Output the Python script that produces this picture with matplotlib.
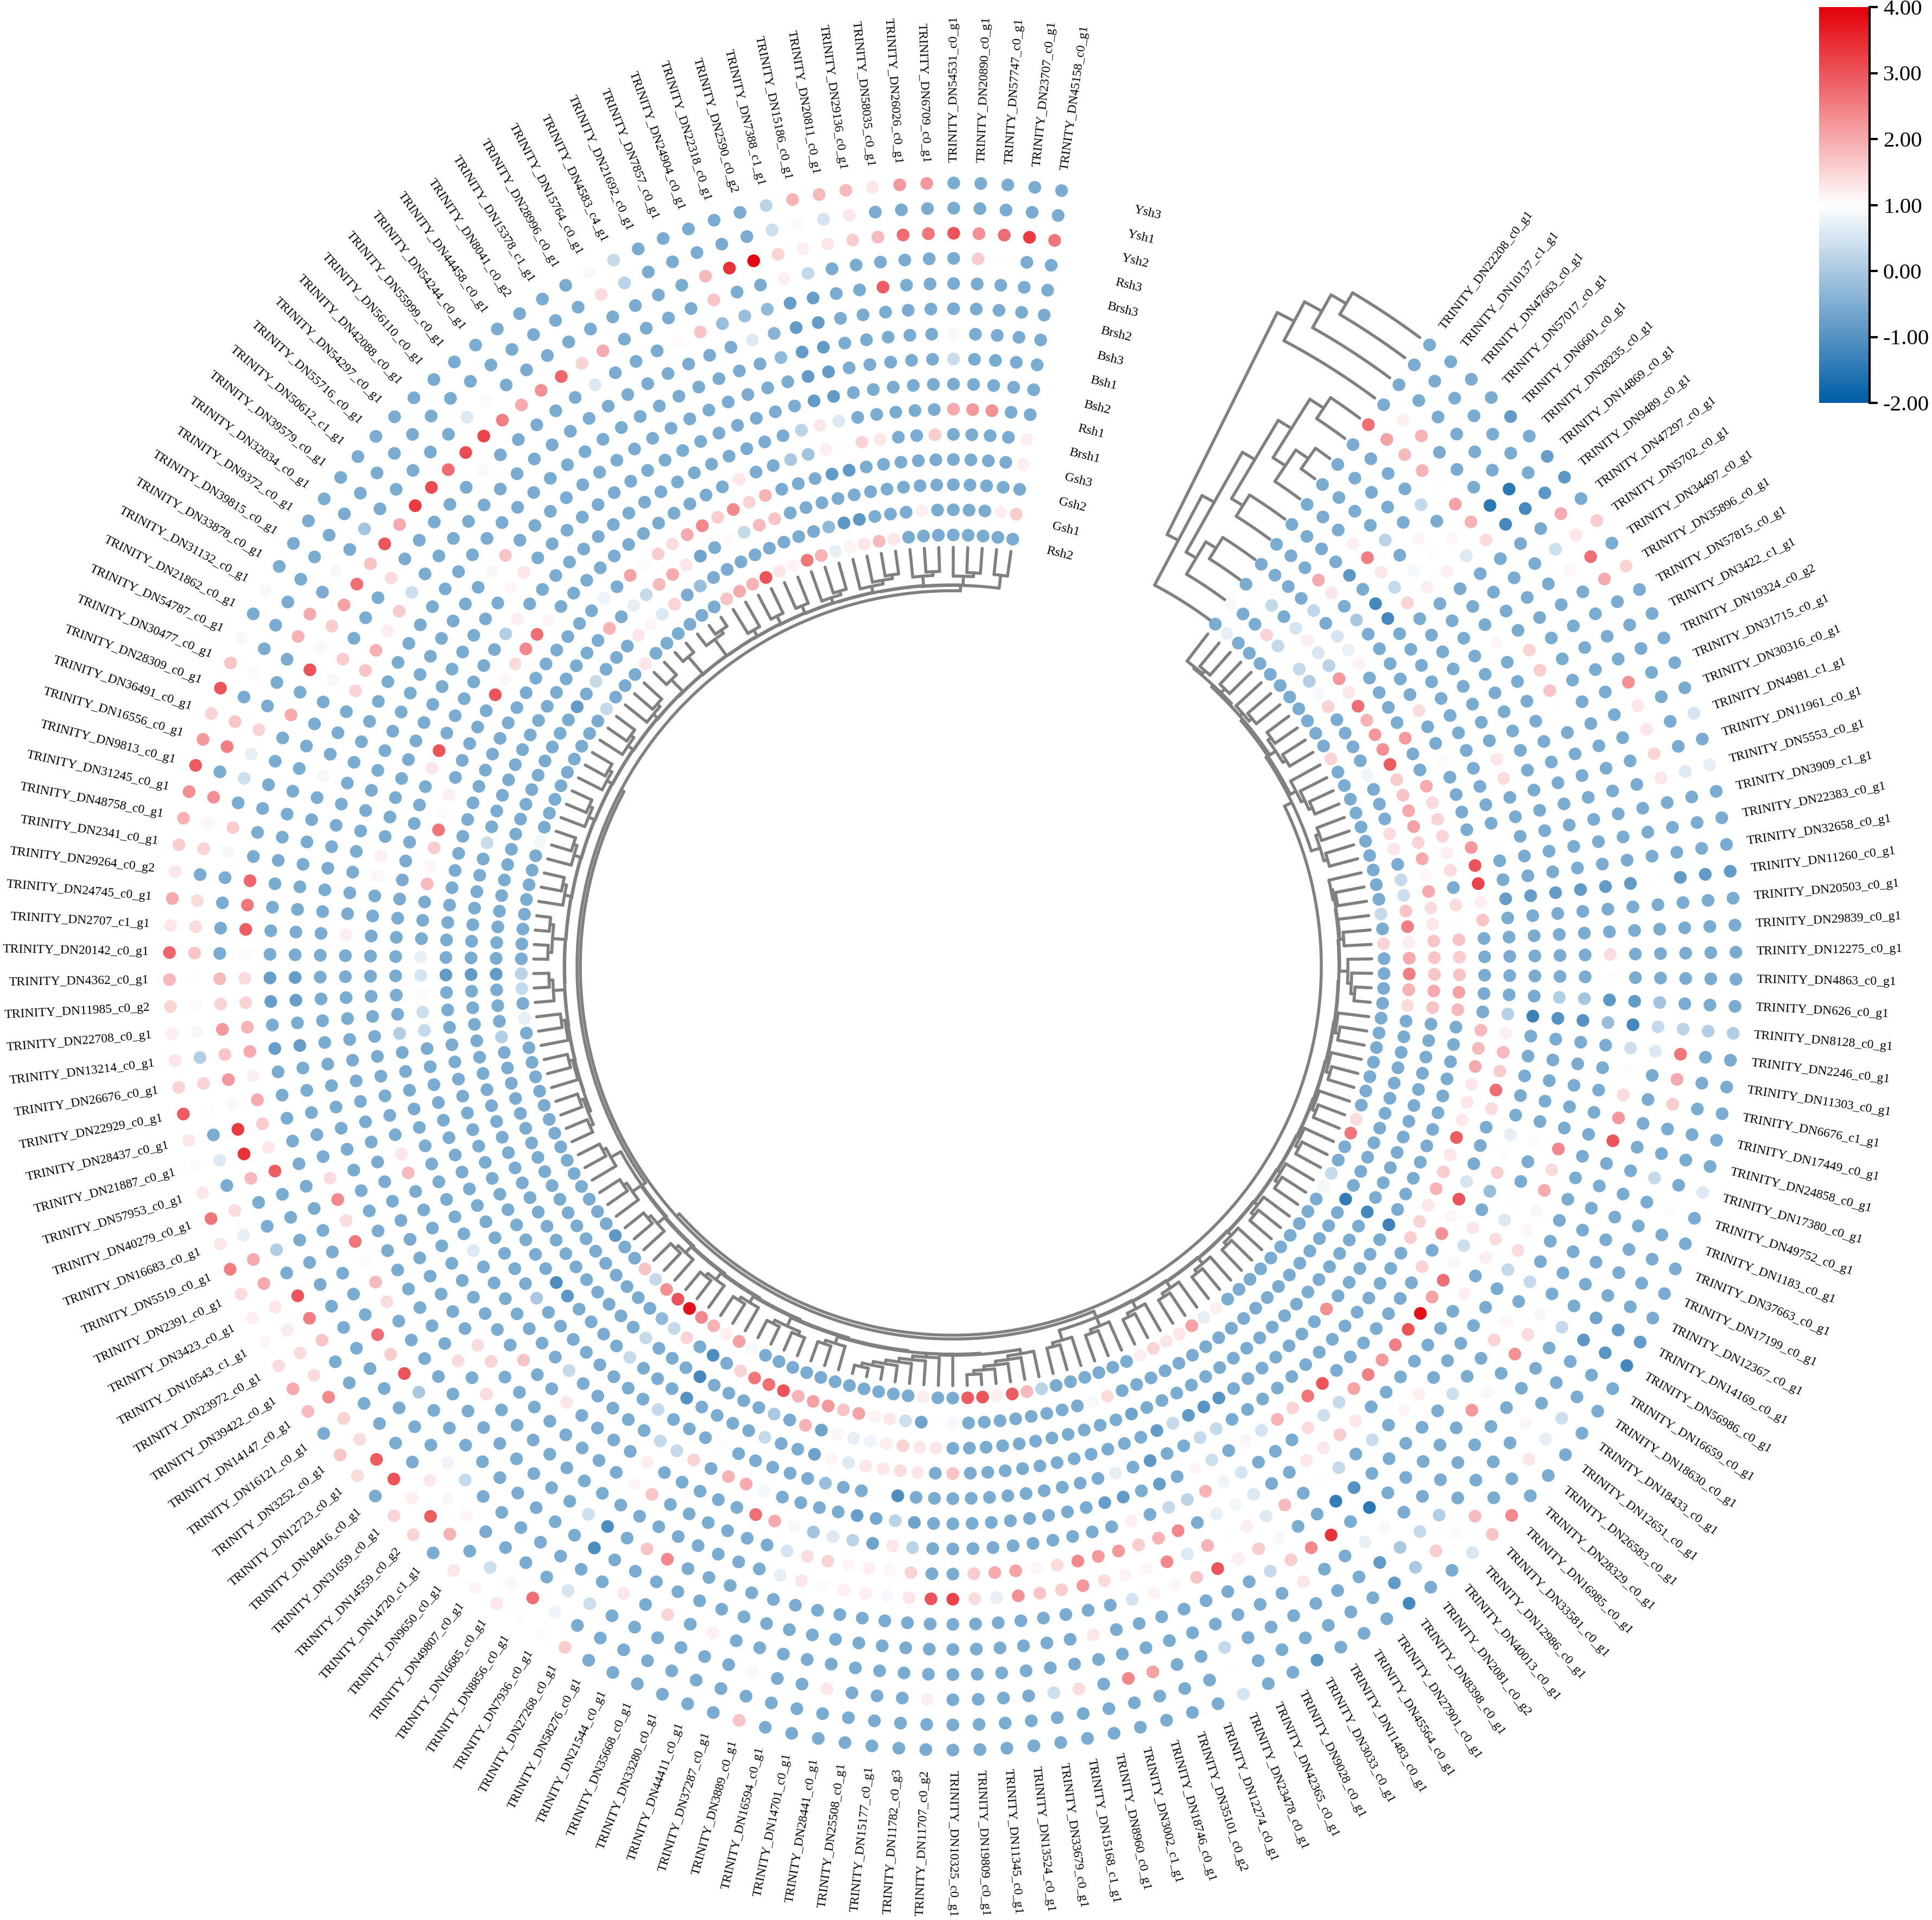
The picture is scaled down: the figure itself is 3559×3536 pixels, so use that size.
#!/usr/bin/env python3
"""Circular heatmap of gene expression with row and sample dendrograms."""
import numpy as np
import matplotlib
matplotlib.use("Agg")
import matplotlib.pyplot as plt
from matplotlib.cm import ScalarMappable
from matplotlib.colors import LinearSegmentedColormap, Normalize

plt.rcParams["font.family"] = ["Liberation Serif", "DejaVu Serif"]
plt.rcParams["axes.unicode_minus"] = False

genes = """DN22208_c0_g1 DN10137_c1_g1 DN47663_c0_g1 DN57017_c0_g1 DN6601_c0_g1 DN28235_c0_g1 DN14869_c0_g1
DN9489_c0_g1 DN47297_c0_g1 DN5702_c0_g1 DN34497_c0_g1 DN35896_c0_g1 DN57815_c0_g1 DN3422_c1_g1 DN19324_c0_g2
DN31715_c0_g1 DN30316_c0_g1 DN4981_c1_g1 DN11961_c0_g1 DN5553_c0_g1 DN3909_c1_g1 DN22383_c0_g1 DN32658_c0_g1
DN11260_c0_g1 DN20503_c0_g1 DN29839_c0_g1 DN12275_c0_g1 DN4863_c0_g1 DN626_c0_g1 DN8128_c0_g1 DN2246_c0_g1
DN11303_c0_g1 DN6676_c1_g1 DN17449_c0_g1 DN24858_c0_g1 DN17380_c0_g1 DN49752_c0_g1 DN1183_c0_g1 DN37663_c0_g1
DN17199_c0_g1 DN12367_c0_g1 DN14169_c0_g1 DN56986_c0_g1 DN16659_c0_g1 DN18630_c0_g1 DN18433_c0_g1 DN12651_c0_g1
DN26583_c0_g1 DN28329_c0_g1 DN16985_c0_g1 DN33581_c0_g1 DN12986_c0_g1 DN40013_c0_g1 DN2081_c0_g2 DN8398_c0_g1
DN27901_c0_g1 DN45564_c0_g1 DN11483_c0_g1 DN3033_c0_g1 DN9028_c0_g1 DN42365_c0_g1 DN23478_c0_g1 DN12274_c0_g1
DN35101_c0_g2 DN18746_c0_g1 DN3002_c1_g1 DN8960_c0_g1 DN15168_c1_g1 DN33679_c0_g1 DN13524_c0_g1 DN11345_c0_g1
DN19809_c0_g1 DN10325_c0_g1 DN11707_c0_g2 DN11782_c0_g3 DN15177_c0_g1 DN25508_c0_g1 DN28441_c0_g1 DN14701_c0_g1
DN16594_c0_g1 DN3889_c0_g1 DN37287_c0_g1 DN44411_c0_g1 DN33280_c0_g1 DN35668_c0_g1 DN21544_c0_g1 DN58276_c0_g1
DN27268_c0_g1 DN7936_c0_g1 DN8856_c0_g1 DN16685_c0_g1 DN49807_c0_g1 DN9650_c0_g1 DN14720_c1_g1 DN14559_c0_g2
DN31659_c0_g1 DN18416_c0_g1 DN12723_c0_g1 DN3252_c0_g1 DN16121_c0_g1 DN14147_c0_g1 DN39422_c0_g1 DN23972_c0_g1
DN10543_c1_g1 DN3423_c0_g1 DN2391_c0_g1 DN5519_c0_g1 DN16683_c0_g1 DN40279_c0_g1 DN57953_c0_g1 DN21887_c0_g1
DN28437_c0_g1 DN22929_c0_g1 DN26676_c0_g1 DN13214_c0_g1 DN22708_c0_g1 DN11985_c0_g2 DN4362_c0_g1 DN20142_c0_g1
DN2707_c1_g1 DN24745_c0_g1 DN29264_c0_g2 DN2341_c0_g1 DN48758_c0_g1 DN31245_c0_g1 DN9813_c0_g1 DN16556_c0_g1
DN36491_c0_g1 DN28309_c0_g1 DN30477_c0_g1 DN54787_c0_g1 DN21862_c0_g1 DN31132_c0_g1 DN33878_c0_g1 DN39815_c0_g1
DN9372_c0_g1 DN32034_c0_g1 DN39579_c0_g1 DN50612_c1_g1 DN55716_c0_g1 DN54297_c0_g1 DN42088_c0_g1 DN56110_c0_g1
DN55999_c0_g1 DN54244_c0_g1 DN44458_c0_g1 DN8041_c0_g2 DN15378_c1_g1 DN28996_c0_g1 DN15764_c0_g1 DN4583_c4_g1
DN21692_c0_g1 DN7857_c0_g1 DN24904_c0_g1 DN22318_c0_g1 DN2590_c0_g2 DN7388_c1_g1 DN15186_c0_g1 DN20811_c0_g1
DN29136_c0_g1 DN58035_c0_g1 DN26026_c0_g1 DN6709_c0_g1 DN54531_c0_g1 DN20890_c0_g1 DN57747_c0_g1 DN23707_c0_g1
DN45158_c0_g1""".split()

# outermost ring first
samples = ["Ysh3", "Ysh1", "Ysh2", "Rsh3", "Brsh3", "Brsh2", "Bsh3", "Bsh1",
           "Bsh2", "Rsh1", "Brsh1", "Gsh3", "Gsh2", "Gsh1", "Rsh2"]

# most dots sit at this value, the dicts below hold the ones that differ {gene index: value}
common_value = -0.55

ysh3 = {162: 2.2, 161: 2.2, 160: 1.3, 159: 1.8, 158: 1.8, 157: 1.9, 156: .2, 150: .3, 149: .9, 132: .9, 130: .9,
        129: 1.7, 128: 3.0, 127: 1.5, 126: 2.2, 125: 2.9, 124: 2.3, 123: 1.9, 122: 1.6, 121: 1.3, 120: 2.0, 119: 1.3,
        118: 2.8, 117: 1.8, 116: 1.5, 115: 1.2, 114: 1.3, 113: 1.5, 112: 2.9, 111: 1.3, 110: .95, 109: 1.3, 108: 2.6,
        107: 1.3, 106: 2.5, 105: 1.4, 104: 1.2, 103: 1.1, 102: 1.4, 101: 2.0, 100: 1.8, 98: 1.7, 97: 1.4, 95: 1.5,
        94: 1.5, 92: 1.3, 91: 1.1, 90: 1.3, 89: .95, 88: .95, 87: 1.6, 80: 1.7, 61: .5, 58: -.9, 54: -1.2, 51: .55,
        50: 1.7, 49: 2.4, 42: -1.2, 41: -.85, 35: .6, 29: .1, 23: -.85, 19: .7, 17: .5, 11: 1.5, 9: 1.6, 7: -.9, 6: -.8,
        4: -.85}
ysh1 = {159: 1.3, 158: .5, 157: 1.05, 156: .4, 150: .2, 149: 1.4, 129: 1.05, 127: 1.7, 126: 2.5, 124: 2.3, 123: 1.1,
        122: 1.5, 120: 1.4, 119: 1.4, 118: 1.7, 117: 1.0, 116: 1.05, 115: .9, 114: .1, 113: 1.5, 112: .95, 110: .6,
        108: 1.4, 107: .7, 106: 2.0, 105: 2.0, 104: 1.3, 103: 1.25, 102: 1.4, 101: 1.4, 100: 2.4, 99: 1.5, 98: 1.4,
        97: 2.9, 96: 3.0, 95: 1.2, 94: 2.9, 93: 1.9, 91: .4, 90: 1.1, 89: 2.7, 88: .8, 61: 1.02, 54: -.85, 53: .0,
        52: 1.6, 51: 1.05, 50: 1.8, 47: 1.3, 46: .7, 45: .4, 42: -.95, 41: -.8, 36: .95, 29: .1, 23: -.85, 19: .6, 11: 2.0,
        10: 2.7, 9: 1.3, 8: 2.0, 7: -.9}
ysh2 = {167: 2.6, 166: 3.3, 165: 2.7, 164: 2.3, 163: 3.0, 162: 2.6, 161: 2.7, 160: 1.8, 159: 1.6, 158: 1.3, 157: 1.2,
        156: 1.5, 155: 3.9, 154: 3.4, 153: 1.8, 143: 1.05, 142: .6, 136: -.1, 134: .9, 132: 2.0, 131: 1.9, 127: 1.5,
        126: .7, 125: .4, 123: 1.6, 122: .9, 117: 1.8, 116: 1.5, 115: 2.2, 114: 1.7, 113: 2.2, 112: .9, 111: 3.3,
        110: 3.4, 109: 1.8, 106: .1, 104: 3.0, 103: 2.5, 102: 1.7, 95: 1.3, 94: .9, 93: 1.1, 88: .5, 87: .4, 80: .9,
        77: 1.3, 73: 1.2, 68: .4, 67: 1.4, 65: 2.4, 64: 2.1, 61: .3, 54: -.85, 53: .0, 52: .3, 51: .1, 46: 1.1, 42: -.9,
        41: -.7, 35: .3, 32: 1.6, 31: 2.0, 30: 2.6, 29: .2, 23: -.85, 19: 1.3, 18: 1.5, 17: 1.3, 16: 1.3, 15: 2.3,
        10: 1.1, 9: .4, 7: -1.2, 6: -1.5}
rsh3 = {165: 1.0, 164: 1.6, 157: .3, 156: 1.2, 153: 1.7, 148: 2.0, 147: 1.5, 146: 2.8, 145: 2.3, 144: 2.0, 143: 2.5,
        142: 3.2, 141: 3.1, 140: 2.7, 139: 3.1, 138: 3.3, 137: 2.0, 136: 3.0, 135: 1.7, 134: 2.7, 133: 2.1, 132: 1.6,
        131: 1.1, 130: 3.0, 128: 2.0, 121: 2.8, 120: 2.6, 119: 2.9, 118: 1.05, 117: 1.4, 116: 1.5, 115: 1.9, 114: 2.0,
        113: 1.2, 112: 2.0, 111: 1.6, 110: 1.3, 109: 2.9, 95: .8, 94: .3, 86: 1.3, 84: 1.5, 82: 1.2, 57: 1.3, 54: .7,
        53: .9, 42: .3, 30: .6, 29: .3, 28: -.1, 23: 1.0, 7: -1.2, 6: -1.5, 2: 1.9, 1: 1.2}
brsh3 = {160: 2.9, 157: -.8, 156: -.8, 155: -.3, 154: -.2, 153: -.2, 152: 1.7, 151: 1.05, 147: .6, 141: .9, 135: 1.4,
         131: 1.6, 130: .9, 117: -.8, 116: -.8, 114: -.8, 101: 2.7, 100: 1.6, 99: 3.0, 98: .0, 88: -1.1, 66: 1.3, 58: .3,
         57: 1.6, 56: 2.4, 55: 3.4, 53: -1.5, 47: 2.2, 46: 1.1, 44: 2.3, 43: 1.4, 42: .9, 34: 3.0, 33: 2.2, 32: 1.4,
         31: .95, 30: .4, 29: -1.2, 28: -.85, 23: -.85, 7: 1.4, 6: 1.9, 5: 2.1, 4: 1.02, 3: 1.9, 2: 1.8, 1: 2.1, 0: 2.7}
brsh2 = {157: -.85, 156: -.85, 155: -.4, 154: .6, 135: .4, 134: 1.6, 133: 1.2, 132: 1.9, 131: 1.7, 130: 1.5, 126: .9,
         117: -.8, 116: -.8, 114: -.8, 108: 1.4, 107: 2.4, 106: 1.4, 105: 2.6, 104: .95, 103: 1.8, 102: 1.4, 89: .4,
         88: -1.1, 86: 1.7, 85: 2.4, 64: .5, 63: 1.15, 62: 1.1, 61: 1.7, 60: 3.0, 59: 1.2, 58: 1.6, 57: .9, 54: -1.4,
         53: -1, 47: .4, 44: 1.5, 43: 1.1, 41: .3, 29: -.2, 28: -.9, 27: 1.0, 26: 1.4, 23: -.85, 15: 1.02, 14: 1.7, 13: 1.6,
         12: 1.5, 7: .6, 6: 1.1, 4: .3}
bsh3 = {163: .9, 157: -.85, 156: -.85, 155: -.3, 98: 1.4, 96: 1.4, 80: .7, 79: 1.3, 78: 1.05, 77: 1.2, 76: 1.2, 75: .9,
        74: 1.3, 73: 3.0, 72: 3.2, 71: 1.4, 70: .7, 69: 2.3, 68: 1.7, 67: 1.6, 66: 2.2, 65: 1.4, 64: 1.15, 63: 1.1,
        62: 2.4, 61: .6, 60: 1.9, 59: 1.02, 58: 1.2, 57: .6, 56: 1.8, 54: .95, 53: .3, 51: .35, 49: 1.1, 48: 1.2,
        41: .3, 40: 1.4, 39: 1.1, 38: .9, 37: 2.0, 36: 1.4, 35: 2.4, 29: -1.0, 28: -.05, 23: -.85, 11: 1.1, 7: 1.2, 6: .95,
        5: 1.1}
bsh1 = {163: .35, 157: -.85, 156: -.85, 139: 1.7, 138: .9, 119: 1.2, 98: 1.4, 97: 1.5, 88: 1.1, 87: 1.7, 80: .5, 79: 1.4,
        78: 1.5, 77: 1.1, 76: 1.2, 75: 1.1, 74: 1.5, 71: 1.6, 70: 2.0, 69: 2.1, 68: 1.1, 67: 1.4, 66: 2.4, 65: 2.2,
        64: 2.2, 63: 1.6, 62: 1.9, 61: 2.4, 59: .7, 58: .85, 57: .6, 54: 1.3, 53: 1.3, 52: 1.6, 51: 1.3, 43: 1.2,
        41: 1.2, 40: 1.4, 39: .6, 38: .95, 35: 1.05, 29: -1.0, 28: .1, 23: -.85, 7: 1.2, 6: .9, 4: .2}
bsh2 = {157: -.85, 156: -.85, 139: 1.3, 138: 1.1, 123: 1.2, 122: 1.1, 108: 1.3, 107: 1.8, 96: 1.7, 93: 1.3, 88: 1.2,
        82: 2.7, 81: 2.0, 80: .9, 79: -.1, 78: .6, 77: .2, 76: -.7, 75: 1.3, 74: .2, 63: 1.2, 61: .3, 60: .2, 59: 1.9,
        58: .8, 57: .5, 53: 1.4, 52: .4, 51: .3, 50: 2.1, 49: 2.5, 48: 2.2, 47: 2.5, 46: 3.0, 45: 3.8, 44: 2.1, 43: 2.7,
        42: .9, 41: .4, 40: 1.3, 38: -.2, 37: 1.6, 36: .95, 35: .7, 29: -1.3, 23: -.8, 17: 1.4, 16: 1.3, 7: 1.5, 6: .3,
        5: 1.3, 4: 2.5, 3: 1.2}
rsh1 = {165: 2.3, 164: 2.2, 163: 2.0, 157: .6, 156: 1.3, 155: .2, 137: 1.2, 136: .1, 129: 3.0, 128: 1.3, 114: .1,
        102: .6, 94: .3, 88: .3, 87: .3, 86: 1.5, 84: 1.9, 83: 2.0, 82: .85, 77: -.8, 76: -.6, 75: .2, 74: -.7, 64: -.8,
        63: -.85, 61: -.8, 59: 1.1, 58: .4, 56: 1.1, 55: .5, 54: 1.9, 53: 1.5, 52: 2.6, 51: 3.0, 43: 1.5, 41: 2.3, 40: 1.1,
        39: 3.0, 38: .5, 34: 1.4, 33: 2.7, 32: 1.6, 31: 1.8, 30: 1.2, 29: .15, 23: -.8, 20: 1.02, 7: -1.2, 6: -1.2,
        4: -.9}
brsh1 = {167: 1.2, 162: 1.6, 159: 1.3, 158: 1.5, 157: 1.0, 156: 1.2, 155: -.1, 154: .0, 151: 1.3, 138: 1.1, 137: 2.7,
         136: 2.4, 135: 1.4, 134: 1.1, 133: 3.0, 127: 1.2, 126: 1.05, 125: 2.6, 124: 1.6, 123: 1.1, 122: 1.8, 118: .7,
         117: .5, 116: 1.05, 115: .4, 114: .3, 98: .0, 89: .3, 85: .95, 79: -.2, 76: 1.02, 75: -1.1, 63: .7, 61: -.9, 58: .3,
         57: .3, 42: 1.6, 41: 1.5, 40: 1.3, 39: 1.9, 38: 1.6, 37: 1.3, 36: 2.9, 35: 1.3, 34: 1.3, 33: 1.3, 32: 2.0,
         31: 1.8, 30: 1.8, 24: 1.7, 23: 1.2, 22: 3.2, 21: 3.0, 20: 2.2, 15: 1.05, 12: 1.4, 6: .0, 4: 1.3, 3: 2.0}
gsh3 = {167: 1.2, 157: -.85, 156: -.85, 152: 1.9, 151: 1.5, 150: 2.4, 149: 1.6, 148: 2.4, 147: 2.0, 146: 1.4, 145: 1.6,
        144: 1.05, 143: 2.1, 141: .8, 117: -.85, 98: -1.1, 97: -.9, 92: .3, 88: -1.0, 83: .3, 80: -.7, 79: 1.1, 78: .6,
        77: 1.3, 76: 1.3, 75: 1.4, 74: 1.3, 72: 1.7, 60: -.85, 59: .3, 58: -.85, 57: -.95, 56: -.95, 48: 2.3, 42: -1.3, 29: 1.8,
        28: 2.1, 27: 1.7, 26: 1.6, 25: 1.7, 24: 1.0, 23: 1.4, 21: 1.4, 20: 1.2, 19: 1.5, 18: 1.5, 17: 1.4, 16: 2.0,
        13: 2.2, 8: 1.15, 7: .75, 6: .5, 4: .25}
gsh2 = {152: 1.7, 151: 1.8, 150: .3, 149: 1.05, 147: -.7, 146: 1.3, 145: 2.0, 144: 1.8, 143: .3, 142: .7, 140: 1.9,
        125: .35, 117: -.85, 92: .3, 88: -1.2, 83: .0, 81: 1.9, 80: -.7, 79: 1.1, 78: .7, 77: .8, 76: 1.2, 75: 1.5, 74: 1.3, 73: 1.3,
        61: -.7, 42: -1.2, 29: 1.7, 28: 2.0, 27: 1.7, 26: 1.7, 25: 1.7, 24: 1.3, 23: 1.4, 22: 2.0, 21: 1.1, 20: 2.0,
        19: 1.5, 18: 2.1, 17: 2.0, 16: 1.7, 15: 1.6, 14: 2.9, 13: 2.3, 12: 2.2, 11: 1.9, 10: 2.7, 9: 1.3, 8: 2.2, 7: .2,
        6: .55, 5: 1.2, 4: .5, 2: .3, 1: 1.0}
gsh1 = {167: 1.6, 166: 1.2, 161: 1.2, 157: -.9, 156: -.9, 155: -.3, 146: -.2, 144: 1.5, 143: .6, 142: 1.1, 141: 1.3,
        137: .3, 135: -.85, 117: -.85, 113: .1, 92: -.3, 91: .3, 90: 1.5, 88: -1.1, 86: 1.5, 85: 2.6, 84: 2.7, 83: 3.0, 82: 1.9, 81: 2.1,
        80: 2.2, 79: 1.7, 78: 2.1, 77: 1.15, 76: 1.3, 75: .4, 74: -.7, 73: 1.02, 72: .9, 63: .9, 62: 1.4, 42: -1.4,
        29: 1.4, 28: 1.9, 27: 2.5, 26: 2.0, 25: 1.2, 24: 2.5, 23: 1.7, 22: .4, 21: .3, 19: 1.3, 18: 1.4, 14: .8, 9: 1.5,
        8: .9, 7: .1, 6: .3, 5: 1.0, 4: .3, 3: 1.5, 0: .9}
rsh2 = {159: 1.3, 158: 1.8, 157: 1.3, 156: 1.15, 155: .7, 154: 1.9, 153: 2.6, 152: 1.15, 151: 1.3, 150: 3.0, 149: 1.9,
        148: 2.0, 147: 1.7, 140: 1.3, 136: .3, 126: .85, 117: .2, 116: .3, 114: .7, 98: -.9, 95: 1.7, 94: .3, 93: 2.3,
        92: 3.0, 91: 3.8, 90: 2.4, 89: 1.9, 88: 1.2, 87: 2.1, 86: .9, 74: 1.2, 71: 2.9, 70: 3.0, 69: 1.2, 68: 2.9, 67: 1.8,
        66: .2, 59: 1.2, 58: 1.5, 57: 1.3, 56: 1.3, 55: 2.1, 54: .7, 53: 1.2, 42: .85, 41: .3, 38: 2.6, 37: 1.4, 25: 1.5,
        23: .3, 12: 1.5, 1: .7}
rings = [ysh3, ysh1, ysh2, rsh3, brsh3, brsh2, bsh3, bsh1, bsh2, rsh1, brsh1, gsh3, gsh2, gsh1, rsh2]

# sample clustering: (angle of the join in degrees, child, child), ints are rings
sample_tree = (26.4,
               (27.9, (29.4, (30.7, 0, 1), 2), 3),
               (27.9,
                (29.4,
                 (30.8, (32.2, (33.6, 4, 5), (33.6, (35.0, 6, 7), 8)), (32.2, 9, 10)),
                 (30.8, (32.2, 11, 12), 13)),
                14))

# gene clustering, clades in gene order: (radius of the deepest join, shape), then grouped into arms
clades_a = [(716, "(.(..))"), (716, "((..)(.(..)))"), (722, "((..)(..))"), (724, "(.(.(..)))"), (718, "((..)(..))")]
clades_b = [(718, "(.(..))"), (722, "(.(..))"), (742, "(.(.(..)))"), (722, "(.(..))"), (722, "(.(..))"),
            (720, "(.(..))"), (720, "(.(..))"), (720, "(.(..))"), (720, "(.(..))"), (720, "(.(..))"),
            (722, "(.(..))"), (722, "(.(..))"), (722, "(.(..))"), (722, "(.(..))"), (724, "(.(..))")]
clades_c = [(752, "(.(.(.(.(..)))))"), (756, "(.(.(.(.(.(.(..)))))))"), (734, "(.(..))"), (736, "((..)(..))"),
            (730, "(.(..))"), (730, "(.(..))"), (728, "(.(..))"), (728, "(.(..))"), (728, "(.(..))"),
            (728, "(.(..))")]
clades_d = [(730, "((..)(..))"), (728, "(.(..))"), (728, "(.(..))"), (744, "(.(..))"), (746, "((..)(..))"),
            (734, "(.(..))"), (734, "(.(..))"), (732, "(.(..))"), (730, "(.(..))"), (730, "(.(..))"), (728, "(.(..))"),
            (740, "(..)"), (750, "(..)"), (752, "(.(..))"), (720, "(..)"), (722, "(..)"), (720, "(..)"), (722, "(.(..))"),
            (730, "(.(.(..)))"), (728, "(.(..))"), (726, "(.(..))"), (726, "(..)")]
arm_radii = {"a": (706, 694), "b": (714, 698), "c": (716, 700), "d": (718, 702)}
top_radii = (692, 686, 679)

colorbar_ticks = [-2, -1, 0, 1, 2, 3, 4]

# layout, pixels
CX, CY = 1755, 1780
R_OUTER, RING_STEP = 1443, 46.3
THETA_0, THETA_STEP = 37.5, 1.979
LEAF_R = 772
GREY = "#808080"
LINE_W = 4.0

cmap = LinearSegmentedColormap.from_list("bwr_custom", ["#005da5", "#ffffff", "#e30008"])
norm = Normalize(-2, 4)


def to_xy(r, theta):
    """theta in degrees clockwise from north."""
    t = np.radians(theta)
    return CX + r * np.sin(t), CY - r * np.cos(t)


def gene_angle(i):
    return THETA_0 + THETA_STEP * i


def ring_radius(k):
    return R_OUTER - RING_STEP * k


def draw_radial(ax, r0, r1, theta):
    x, y = to_xy(np.array([r0, r1]), theta)
    ax.plot(x, y, color=GREY, lw=LINE_W, solid_capstyle="round", zorder=1)


def draw_arc(ax, r, theta0, theta1):
    t = np.linspace(theta0, theta1, max(3, int(abs(theta1 - theta0) * 2) + 2))
    x, y = to_xy(r, t)
    ax.plot(x, y, color=GREY, lw=LINE_W, solid_capstyle="round", zorder=1)


def draw_sample_node(ax, node):
    """Returns ring position (radius) and join angle of a node of the sample tree."""
    if isinstance(node, int):
        return ring_radius(node), THETA_0 - 0.9
    angle, a, b = node
    ra, ta = draw_sample_node(ax, a)
    rb, tb = draw_sample_node(ax, b)
    draw_arc(ax, ra, ta, angle)
    draw_arc(ax, rb, tb, angle)
    draw_radial(ax, ra, rb, angle)
    return (ra + rb) / 2, angle


def parse_clade(shape):
    """'(.(..))' to nested lists of '.'"""
    stack = [[]]
    for ch in shape:
        if ch == "(":
            stack.append([])
        elif ch == ")":
            node = stack.pop()
            stack[-1].append(node)
        else:
            stack[-1].append(".")
    return stack[0][0]


def height(node):
    return 0 if node == "." else 1 + max(height(c) for c in node)


def join(ax, a, b, r):
    """a, b are (gene position, radius), draws the bracket and gives the new node."""
    draw_radial(ax, a[1], r, gene_angle(a[0]))
    draw_radial(ax, b[1], r, gene_angle(b[0]))
    draw_arc(ax, r, gene_angle(a[0]), gene_angle(b[0]))
    return (a[0] + b[0]) / 2, r


def draw_clade(ax, node, base_r, counter):
    if node == ".":
        counter[0] += 1
        return counter[0] - 1, LEAF_R
    a = draw_clade(ax, node[0], base_r, counter)
    b = draw_clade(ax, node[1], base_r, counter)
    return join(ax, a, b, base_r - 7 * (height(node) - 1))


def draw_arm(ax, clades, radii, counter):
    nodes = [draw_clade(ax, parse_clade(shape), r, counter) for r, shape in clades]
    steps = np.linspace(radii[0], radii[1], max(1, len(nodes) - 1))
    cur = nodes[0]
    for nxt, r in zip(nodes[1:], steps):
        cur = join(ax, cur, nxt, r)
    return cur


def main():
    fig = plt.figure(figsize=(35.59, 35.36), dpi=100)
    ax = fig.add_axes([0, 0, 1, 1])
    ax.set_xlim(0, 3559)
    ax.set_ylim(3536, 0)
    ax.axis("off")

    # dots
    for k, ring in enumerate(rings):
        values = np.array([ring.get(i, common_value) for i in range(len(genes))])
        x, y = to_xy(ring_radius(k), gene_angle(np.arange(len(genes))))
        ax.scatter(x, y, c=values, cmap=cmap, norm=norm, s=285, linewidths=0, zorder=2)

    # gene labels, always upright enough to read from the nearest side
    for i, name in enumerate(genes):
        theta = gene_angle(i)
        right_side = theta <= 180.5 or theta >= 360
        x, y = to_xy(1481, theta)
        ax.text(x, y, "TRINITY_" + name, fontsize=17.0, rotation=(90 - theta) if right_side else (270 - theta),
                rotation_mode="anchor", ha="left" if right_side else "right", va="center")

    # sample labels sit in the gap of the circle
    for k, name in enumerate(samples):
        x, y = to_xy(ring_radius(k) - 9, 14.5)
        ax.text(x, y, name, fontsize=17.6, rotation=-14, rotation_mode="anchor", ha="center", va="center")

    # dendrograms
    draw_sample_node(ax, sample_tree)
    counter = [0]
    arm_a = draw_arm(ax, clades_a, arm_radii["a"], counter)
    arm_b = draw_arm(ax, clades_b, arm_radii["b"], counter)
    arm_c = draw_arm(ax, clades_c, arm_radii["c"], counter)
    arm_d = draw_arm(ax, clades_d, arm_radii["d"], counter)
    cd = join(ax, arm_c, arm_d, top_radii[0])
    bcd = join(ax, arm_b, cd, top_radii[1])
    join(ax, arm_a, bcd, top_radii[2])

    # colour scale
    cax = fig.add_axes([3351 / 3559, 1 - 742 / 3536, 93 / 3559, 729 / 3536])
    cbar = fig.colorbar(ScalarMappable(norm=norm, cmap=cmap), cax=cax, ticks=colorbar_ticks, format="%.2f")
    cbar.outline.set_visible(False)
    cax.spines["right"].set_visible(True)
    cax.spines["right"].set_linewidth(3)
    cax.tick_params(labelsize=29.5, length=11, width=3, pad=7)

    fig.savefig("out.png", dpi=100, facecolor="white")


if __name__ == "__main__":
    main()
